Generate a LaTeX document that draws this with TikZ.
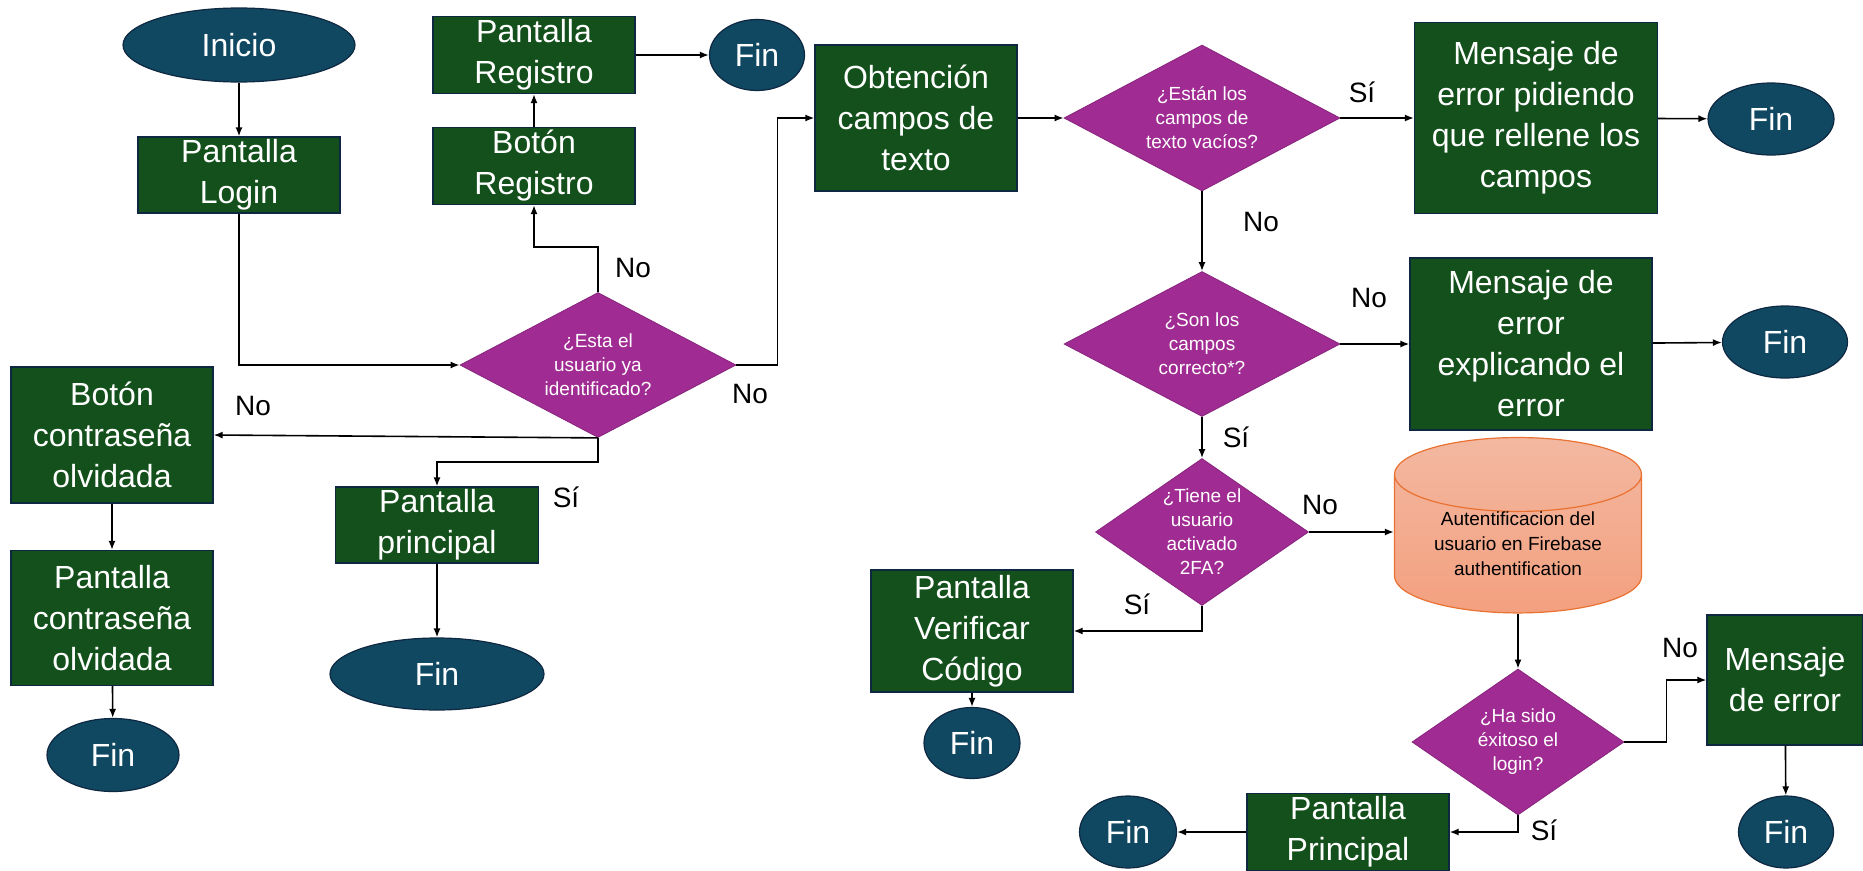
\documentclass[tikz,border=0pt]{standalone}
\usepackage{fontspec}
\setmainfont{Liberation Sans}
\usepackage{xcolor}
\usetikzlibrary{shapes.geometric,arrows.meta}

\definecolor{verdecaja}{HTML}{13501B}
\definecolor{azulfin}{HTML}{104862}
\definecolor{bordeazul}{HTML}{0E2841}
\definecolor{morado}{HTML}{A02B93}
\definecolor{naranja}{HTML}{E97132}
\definecolor{salmonclaro}{HTML}{F3B8A1}
\definecolor{salmon}{HTML}{F3A07F}

\begin{document}
\begin{tikzpicture}[x=1pt,y=-1pt,
  caja/.style={rectangle,draw=bordeazul,line width=1.2pt,fill=verdecaja,text=white,
    align=center,inner sep=0pt,minimum width=202pt,font=\fontsize{32}{41}\selectfont},
  fin/.style={ellipse,draw=bordeazul,line width=1.2pt,fill=azulfin,text=white,
    inner sep=0pt,minimum height=72pt,font=\fontsize{32}{41}\selectfont},
  pregunta/.style={diamond,draw=morado!85!black,line width=0.8pt,fill=morado,text=white,
    align=center,inner sep=0pt,aspect=1.9,font=\fontsize{19}{24}\selectfont},
  base/.style={cylinder,shape border rotate=90,aspect=0.44,draw=naranja,line width=1.2pt,
    top color=salmonclaro,bottom color=salmon,align=center,inner sep=0pt,
    font=\fontsize{19}{25}\selectfont},
  etiqueta/.style={font=\fontsize{28}{30}\selectfont},
  flecha/.style={-{Latex[length=9pt,width=7pt]},line width=1.6pt}]
\useasboundingbox (0,0) rectangle (1863,870);
%inicio y login
\node[fin,minimum width=232pt,minimum height=74pt] (inicio) at (239,45) {Inicio};
\node[caja,minimum height=76pt] (login) at (239,175) {Pantalla\\Login};
\node[pregunta,minimum width=276pt,minimum height=145pt] (p1) at (598,365) {¿Esta el\\usuario ya\\identificado?};
%registro
\node[caja,minimum height=77pt] (breg) at (534,166) {Botón\\Registro};
\node[caja,minimum height=77pt] (preg) at (534,55) {Pantalla\\Registro};
\node[fin,minimum width=95pt,minimum height=71pt] (fin1) at (757,55) {Fin};
%contraseña olvidada
\node[caja,minimum height=136pt] (bcontra) at (112,435) {Botón\\contraseña\\olvidada};
\node[caja,minimum height=135pt] (pcontra) at (112,618) {Pantalla\\contraseña\\olvidada};
\node[fin,minimum width=132pt,minimum height=73pt] (fin2) at (113,755) {Fin};
%pantalla principal
\node[caja,minimum width=203pt,minimum height=76pt] (pprin) at (437,525) {Pantalla\\principal};
\node[fin,minimum width=214pt] (fin3) at (437,674) {Fin};
%campos de texto
\node[caja,minimum height=146pt] (obten) at (916,118) {Obtención\\campos de\\texto};
\node[pregunta,minimum width=276pt,minimum height=146pt] (p2) at (1202,118) {¿Están los\\campos de\\texto vacíos?};
\node[caja,minimum width=243pt,minimum height=191pt] (merr1) at (1536,118) {Mensaje de\\error pidiendo\\que rellene los\\campos};
\node[fin,minimum width=126pt] (fin4) at (1771,119) {Fin};
\node[pregunta,minimum width=276pt,minimum height=145pt] (p3) at (1202,344) {¿Son los\\campos\\correcto*?};
\node[caja,minimum width=242pt,minimum height=172pt] (merr2) at (1531,344) {Mensaje de\\error\\explicando el\\error};
\node[fin,minimum width=125pt] (fin5) at (1785,342) {Fin};
%2FA
\node[pregunta,minimum width=213pt,minimum height=147pt,aspect=1.45] (p4) at (1202,532) {¿Tiene el\\usuario\\activado\\2FA?};
\node[caja,minimum height=122pt] (pverif) at (972,631) {Pantalla\\Verificar\\Código};
\node[fin,minimum width=96pt,minimum height=71pt] (fin6) at (972,743) {Fin};
%firebase
\node[base,minimum width=247pt,minimum height=150pt] (auth) at (1518,544) {Autentificacion del\\usuario en Firebase\\authentification};
\node[pregunta,minimum width=212pt,minimum height=146pt,aspect=1.45] (p5) at (1518,742) {¿Ha sido\\éxitoso el\\login?};
\node[caja,minimum width=156pt,minimum height=130pt] (merr3) at (1785,680) {Mensaje\\de error};
\node[fin,minimum width=95pt] (fin7) at (1786,832) {Fin};
\node[caja,minimum height=77pt] (pprin2) at (1348,832) {Pantalla\\Principal};
\node[fin,minimum width=97pt] (fin8) at (1128,832) {Fin};

%etiquetas
\node[etiqueta] (no1) at (633,268) {No};
\node[etiqueta] (no2) at (750,394) {No};
\node[etiqueta] (no3) at (253,406) {No};
\node[etiqueta] (si1) at (566,497) {Sí};
\node[etiqueta] (si2) at (1362,92) {Sí};
\node[etiqueta] (no4) at (1261,222) {No};
\node[etiqueta] (no5) at (1369,298) {No};
\node[etiqueta] (si3) at (1236,437) {Sí};
\node[etiqueta] (no6) at (1320,505) {No};
\node[etiqueta] (si4) at (1137,604) {Sí};
\node[etiqueta] (no7) at (1680,648) {No};
\node[etiqueta] (si5) at (1544,830) {Sí};

%flechas lado izquierdo
\draw[flecha] (inicio)--(login);
\draw[flecha] (login.south)|-(p1.west);
\draw[flecha] (p1.north)--++(0,-45)-|(breg.south);
\draw[flecha] (breg)--(preg);
\draw[flecha] (preg)--(fin1);
\draw[flecha] (p1.east)--++(41,0)|-(obten.west);
\draw[flecha] (p1.south)--(bcontra.east);
\draw[flecha] (bcontra)--(pcontra);
\draw[flecha] (pcontra)--(fin2);
\draw[flecha] (p1.south)--++(0,24)-|(pprin.north);
\draw[flecha] (pprin)--(fin3);

%flechas lado derecho
\draw[flecha] (obten)--(p2);
\draw[flecha] (p2)--(merr1);
\draw[flecha] (merr1)--(fin4);
\draw[flecha] (p2)--(p3);
\draw[flecha] (p3)--(merr2);
\draw[flecha] (merr2)--(fin5);
\draw[flecha] (p3)--(p4);
\draw[flecha] (p4.east)--(p4.east-|auth.west);
\draw[flecha] (p4.south)|-(pverif.east);
\draw[flecha] (pverif)--(fin6);
\draw[flecha] (auth)--(p5);
\draw[flecha] (p5.east)--++(42,0)|-(merr3.west);
\draw[flecha] (merr3)--(fin7);
\draw[flecha] (p5.south)|-(pprin2.east);
\draw[flecha] (pprin2)--(fin8);
\end{tikzpicture}
\end{document}
